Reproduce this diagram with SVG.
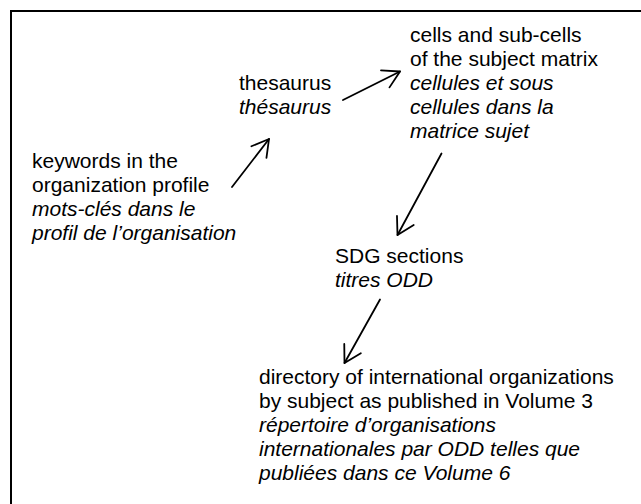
<svg xmlns="http://www.w3.org/2000/svg" width="641" height="504" viewBox="0 0 641 504">
<style>
text{font-family:"Liberation Sans",Arial,sans-serif;font-size:21px;fill:#000}
.fr{font-style:italic}
.c{stroke:#000;stroke-width:1.8;fill:none;stroke-linecap:round}
</style>
<defs>
<marker id="ah" markerUnits="userSpaceOnUse" markerWidth="30" markerHeight="30" refX="0" refY="0" viewBox="-20 -15 30 30" orient="auto" overflow="visible">
<path d="M -16.5 -9.5 L 0 0 L -16.5 9.5" fill="none" stroke="#000" stroke-width="1.8" stroke-linecap="round" stroke-linejoin="round"/>
</marker>
</defs>
<rect width="641" height="504" fill="#fff"/>
<path d="M 11 504 V 11 H 641" fill="none" stroke="#000" stroke-width="2"/>
<g id="keywords">
<text x="32" y="167.5">keywords in the</text>
<text x="32" y="191.5">organization profile</text>
<text x="32" y="215.5" class="fr">mots-clés dans le</text>
<text x="32" y="239.5" class="fr">profil de l’organisation</text>
</g>
<g id="thesaurus">
<text x="239" y="89.5">thesaurus</text>
<text x="239" y="113.5" class="fr">thésaurus</text>
</g>
<g id="cells">
<text x="410" y="41.5">cells and sub-cells</text>
<text x="410" y="65.5">of the subject matrix</text>
<text x="410" y="89.5" class="fr">cellules et sous</text>
<text x="410" y="113.5" class="fr">cellules dans la</text>
<text x="410" y="137.5" class="fr">matrice sujet</text>
</g>
<g id="sdg">
<text x="335" y="262.5">SDG sections</text>
<text x="335" y="286.5" class="fr">titres ODD</text>
</g>
<g id="directory">
<text x="259" y="384">directory of international organizations</text>
<text x="259" y="408">by subject as published in Volume 3</text>
<text x="259" y="432" class="fr">répertoire d’organisations</text>
<text x="259" y="456" class="fr">internationales par ODD telles que</text>
<text x="259" y="480" class="fr">publiées dans ce Volume 6</text>
</g>
<g id="connectors">
<line class="c" x1="232" y1="187" x2="269" y2="139" marker-end="url(#ah)"/>
<line class="c" x1="343" y1="100" x2="400" y2="71.5" marker-end="url(#ah)"/>
<line class="c" x1="441.5" y1="153.5" x2="397.5" y2="235" marker-end="url(#ah)"/>
<line class="c" x1="380" y1="299.5" x2="344.5" y2="363" marker-end="url(#ah)"/>
</g>
</svg>
